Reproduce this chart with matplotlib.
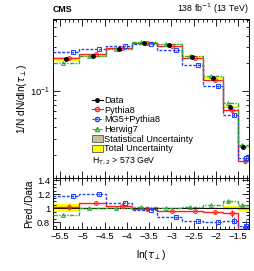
import matplotlib
matplotlib.use("Agg")
import matplotlib.pyplot as plt
import numpy as np
from matplotlib.lines import Line2D
from matplotlib.patches import Patch

plt.rcParams['font.family'] = ['Liberation Sans', 'DejaVu Sans']
plt.rcParams['mathtext.fontset'] = 'dejavusans'

# ---- data ----
edges = [-5.66, -5.07, -4.47, -3.89, -3.33, -2.77, -2.29, -1.85, -1.51, -1.26]
data_vals = [0.223, 0.238, 0.287, 0.334, 0.320, 0.235, 0.138, 0.0662, 0.0244]
stat_unc = [0.012, 0.006, 0.005, 0.004, 0.005, 0.006, 0.008, 0.012, 0.025]
tot_unc = [0.055, 0.022, 0.015, 0.012, 0.015, 0.015, 0.018, 0.025, 0.04]
ratio_pythia = [1.02, 1.07, 1.03, 0.99, 0.96, 0.96, 0.94, 0.93, 0.70]
ratio_mg5 = [1.18, 1.20, 1.08, 0.98, 0.87, 0.82, 0.81, 0.82, 0.75]
ratio_herwig = [0.91, 1.00, 1.00, 1.02, 1.01, 1.02, 1.05, 1.10, 1.05]
err_pythia = [0.04, 0.015, 0.01, 0.01, 0.01, 0.01, 0.02, 0.05, 0.08]
err_mg5 = [0.015, 0.01, 0.01, 0.01, 0.01, 0.01, 0.02, 0.05, 0.08]
err_herwig = [0.01, 0.01, 0.01, 0.01, 0.01, 0.01, 0.01, 0.02, 0.03]
xticks = [-5.5, -5, -4.5, -4, -3.5, -3, -2.5, -2, -1.5]
xticklabels = ['\u22125.5', '\u22125', '\u22124.5', '\u22124', '\u22123.5', '\u22123', '\u22122.5', '\u22122', '\u22121.5']

edges_a = np.array(edges)
data = np.array(data_vals)
centers = 0.5 * (edges_a[:-1] + edges_a[1:])
widths = np.diff(edges_a)

models = [
    ('Pythia8', np.array(ratio_pythia), np.array(err_pythia), '#ff2020', '-', 'o', 0.12),
    ('MG5+Pythia8', np.array(ratio_mg5), np.array(err_mg5), '#2040ff', (0, (2, 1.2)), 's', 0.25),
    ('Herwig7', np.array(ratio_herwig), np.array(err_herwig), '#33aa33', (0, (3, 1, 1, 1)), '^', -0.12),
]

W, H = 254, 271
fig = plt.figure(figsize=(W / 100, H / 100), dpi=100)
L, R = 53 / W, 249 / W
ax = fig.add_axes([L, 1 - 178 / H, R - L, (178 - 19) / H])
axr = fig.add_axes([L, 1 - 229.3 / H, R - L, (229.3 - 178) / H])

stat_col = '#c9c0a0'
tot_col = '#ffff00'

# ---- top panel ----
for i in range(len(data)):
    ax.fill_between([edges_a[i], edges_a[i + 1]], data[i] * (1 - tot_unc[i]), data[i] * (1 + tot_unc[i]),
                    color=tot_col, lw=0, zorder=1)
    ax.fill_between([edges_a[i], edges_a[i + 1]], data[i] * (1 - stat_unc[i]), data[i] * (1 + stat_unc[i]),
                    color=stat_col, lw=0, zorder=2)

for name, r, e, c, ls, m, off in models:
    vals = data * r
    ax.stairs(vals, edges_a, color=c, ls=ls, lw=1.0, zorder=3, baseline=None)
    ax.errorbar(centers + off * widths, vals, yerr=vals * e, fmt=m, mfc='none', mec=c, ecolor=c,
                ms=2.8, mew=0.7, elinewidth=0.7, zorder=4)
ax.errorbar(centers, data, yerr=data * np.array(stat_unc), fmt='o', color='black', ms=2.5,
            elinewidth=0.8, zorder=5)

ax.set_yscale('log')
ax.set_ylim(0.0111, 0.61)
ax.set_xlim(edges_a[0], edges_a[-1])
ax.set_xticks(xticks)
ax.set_xticklabels([])
ax.xaxis.set_minor_locator(matplotlib.ticker.MultipleLocator(0.1))
ax.set_ylabel('1/N dN/dln($\\tau_{\\perp}$)', fontsize=7.3, labelpad=1)

# ---- ratio panel ----
for i in range(len(data)):
    axr.fill_between([edges_a[i], edges_a[i + 1]], 1 - tot_unc[i], 1 + tot_unc[i], color=tot_col, lw=0, zorder=1)
    axr.fill_between([edges_a[i], edges_a[i + 1]], 1 - stat_unc[i], 1 + stat_unc[i], color=stat_col, lw=0, zorder=2)
axr.axhline(1.0, color='black', lw=0.7, zorder=3)
for name, r, e, c, ls, m, off in models:
    axr.stairs(r, edges_a, color=c, ls=ls, lw=1.0, zorder=3, baseline=None)
    axr.errorbar(centers + off * widths, r, yerr=e, fmt=m, mfc='none', mec=c, ecolor=c,
                 ms=2.8, mew=0.7, elinewidth=0.7, zorder=4)
axr.set_xlim(edges_a[0], edges_a[-1])
axr.set_ylim(0.7, 1.43)
axr.set_xticks(xticks)
axr.set_xticklabels(xticklabels)
axr.xaxis.set_minor_locator(matplotlib.ticker.MultipleLocator(0.1))
axr.set_yticks([0.8, 1.0, 1.2, 1.4])
axr.set_yticklabels(['0.8', '1', '1.2', '1.4'])
axr.yaxis.set_minor_locator(matplotlib.ticker.MultipleLocator(0.05))
axr.set_ylabel('Pred./Data', fontsize=7.3, labelpad=2)
axr.set_xlabel('ln($\\tau_{\\perp}$)', fontsize=7.3, labelpad=5)

for a in (ax, axr):
    a.tick_params(which='both', direction='in', top=True, right=True, labelsize=6.8, pad=2, width=0.6)
    a.tick_params(which='major', length=5)
    a.tick_params(which='minor', length=2.5)
    for s in a.spines.values():
        s.set_linewidth(0.7)

# ---- legend ----
handles = [
    Line2D([], [], color='black', marker='o', ms=2.5, lw=0.8),
    Line2D([], [], color='#ff2020', marker='o', mfc='none', ms=3, lw=0.8),
    Line2D([], [], color='#2040ff', marker='o', mfc='none', ms=3, lw=0.8, ls=(0, (2, 1.2))),
    Line2D([], [], color='#33aa33', marker='^', mfc='none', ms=3, lw=0.8, ls=(0, (3, 1, 1, 1))),
    Patch(facecolor=stat_col, edgecolor='#555555', lw=0.6),
    Patch(facecolor=tot_col, edgecolor='#555555', lw=0.6),
]
labels = ['Data', 'Pythia8', 'MG5+Pythia8', 'Herwig7', 'Statistical Uncertainty', 'Total Uncertainty']
ax.legend(handles, labels, loc='upper left', bbox_to_anchor=(0.199, 0.515), frameon=False, fontsize=6.6,
          handlelength=1.15, handleheight=0.8, handletextpad=0.2, labelspacing=0.07,
          borderpad=0, borderaxespad=0)
ax.text(0.199, 0.107, 'H$_{\\mathrm{T,2}}$ > 573 GeV', transform=ax.transAxes, fontsize=6.3, va='center', ha='left')

fig.text(L, 1 - 12 / H, 'CMS', fontsize=6.3, fontweight='bold', ha='left', va='baseline')
fig.text(R, 1 - 12 / H, '138 fb$^{-1}$ (13 TeV)', fontsize=6.3, ha='right', va='baseline')

fig.savefig('out.png', dpi=100)
